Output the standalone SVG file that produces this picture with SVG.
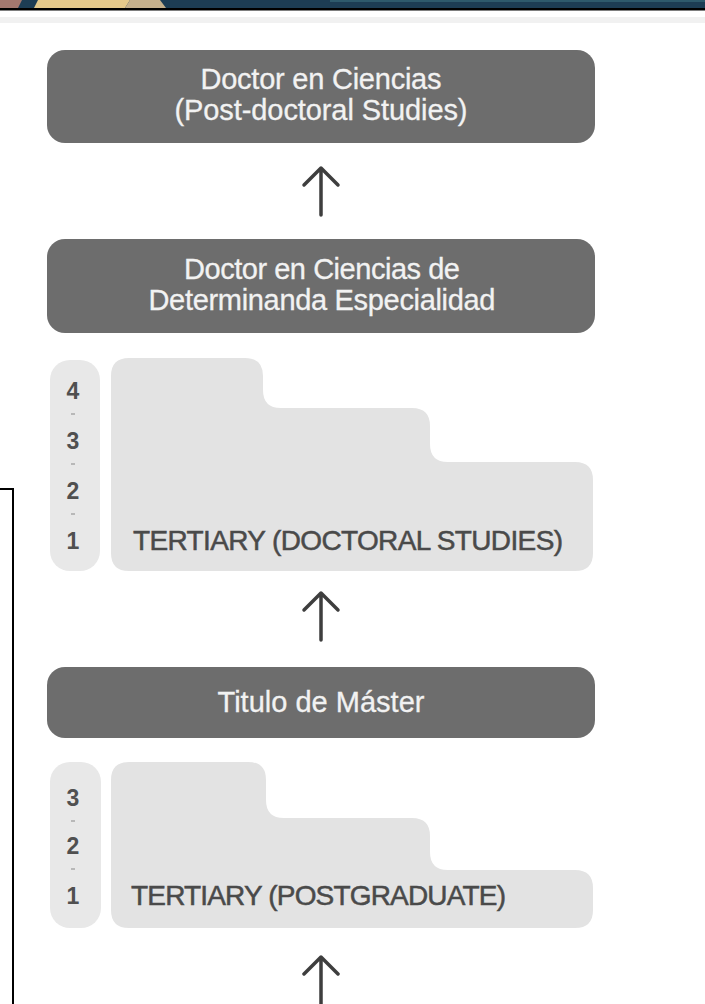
<svg xmlns="http://www.w3.org/2000/svg" width="705" height="1004" viewBox="0 0 705 1004">
<style>
.box{fill:#6d6d6d}
.bt{font-family:"Liberation Sans",Arial,sans-serif;font-size:29px;fill:#f2f2f2;stroke:#f2f2f2;stroke-width:0.3;text-anchor:middle}
.lt{fill:#e3e3e3}
.pill{fill:#e8e8e8}
.tt{font-family:"Liberation Sans",Arial,sans-serif;font-size:28px;fill:#4a4a4a;stroke:#4a4a4a;stroke-width:0.5}
.num{font-family:"Liberation Sans",Arial,sans-serif;font-size:23px;font-weight:bold;fill:#505050;text-anchor:middle}
.dash{stroke:#a8a8a8;stroke-width:1.5}
.arr{stroke:#3e3e3e;stroke-width:3.5;fill:none;stroke-linecap:round;stroke-linejoin:round}
</style>
<rect width="705" height="1004" fill="#ffffff"/>
<g id="banner">
<rect x="0" y="0" width="705" height="8" fill="#1d3d54"/>
<polygon points="0,0 22,0 18,8 0,8" fill="#a3786f"/>
<polygon points="38,0 130,0 125,8 34,8" fill="#e5c98b"/>
<polygon points="130,0 160,0 166,8 125,8" fill="#c5b08c"/>
<rect x="330" y="0" width="375" height="2" fill="#2e5a6c"/>
<rect x="0" y="8" width="705" height="2.5" fill="#000000"/>
<rect x="0" y="17" width="705" height="6" fill="#f1f1f1"/>
</g>
<g id="bracket">
<path d="M0,489 H13 V1004" fill="none" stroke="#000" stroke-width="2"/>
</g>
<g id="box-postdoc">
<rect class="box" x="47" y="50" width="548" height="93" rx="18"/>
<text class="bt" x="321" y="89" textLength="241">Doctor en Ciencias</text>
<text class="bt" x="321" y="120" textLength="293">(Post-doctoral Studies)</text>
</g>
<g id="box-doctor">
<rect class="box" x="47" y="239" width="548" height="94" rx="18"/>
<text class="bt" x="322" y="279" textLength="276">Doctor en Ciencias de</text>
<text class="bt" x="322" y="310" textLength="347">Determinanda Especialidad</text>
</g>
<g id="doctoral">
<rect class="pill" x="50" y="360" width="50" height="211" rx="20"/>
<path class="lt" d="M129,358 H245 Q263,358 263,376 V390 Q263,408 281,408 H412 Q430,408 430,426 V444 Q430,462 448,462 H575 Q593,462 593,480 V553 Q593,571 575,571 H129 Q111,571 111,553 V376 Q111,358 129,358 Z"/>
<text class="num" x="73" y="399">4</text>
<line class="dash" x1="71" y1="414" x2="75" y2="414"/>
<text class="num" x="73" y="449">3</text>
<line class="dash" x1="71" y1="464" x2="75" y2="464"/>
<text class="num" x="73" y="499">2</text>
<line class="dash" x1="71" y1="514" x2="75" y2="514"/>
<text class="num" x="73" y="549">1</text>
<text class="tt" x="133" y="550" textLength="430">TERTIARY (DOCTORAL STUDIES)</text>
</g>
<g id="box-master">
<rect class="box" x="47" y="667" width="548" height="71" rx="18"/>
<text class="bt" x="321" y="712" textLength="207">Titulo de Máster</text>
</g>
<g id="postgraduate">
<rect class="pill" x="50" y="762" width="51" height="166" rx="20"/>
<path class="lt" d="M129,762 H248 Q266,762 266,780 V800 Q266,818 284,818 H412 Q430,818 430,836 V852 Q430,870 448,870 H575 Q593,870 593,888 V910 Q593,928 575,928 H129 Q111,928 111,910 V780 Q111,762 129,762 Z"/>
<text class="num" x="73" y="806">3</text>
<line class="dash" x1="71" y1="821" x2="75" y2="821"/>
<text class="num" x="73" y="854">2</text>
<line class="dash" x1="71" y1="869" x2="75" y2="869"/>
<text class="num" x="73" y="904">1</text>
<text class="tt" x="131" y="905" textLength="375">TERTIARY (POSTGRADUATE)</text>
</g>
<g id="connectors">
<path class="arr" d="M321,215 V168 M304,185 L321,168 L338,185"/>
<path class="arr" d="M321,640 V593 M304,610 L321,593 L338,610"/>
<path class="arr" d="M321,1006 V957 M304,974 L321,957 L338,974"/>
</g>
</svg>
